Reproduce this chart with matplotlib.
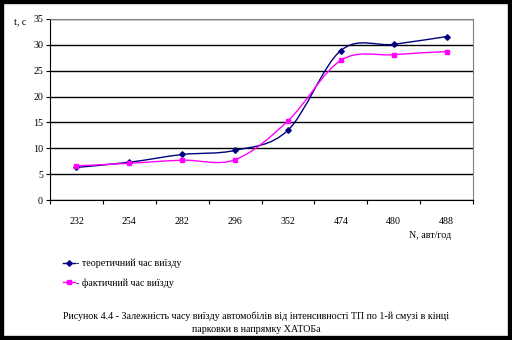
import numpy as np
import matplotlib
matplotlib.use('Agg')
from matplotlib import pyplot as plt
from matplotlib.path import Path
from matplotlib.patches import PathPatch, Rectangle
from matplotlib.lines import Line2D

categories = ['232', '254', '282', '296', '352', '474', '480', '488']
theory = [6.3, 7.3, 8.8, 9.6, 13.5, 28.9, 30.1, 31.6]
actual = [6.6, 7.1, 7.7, 7.8, 15.3, 27.0, 28.1, 28.7]

plt.rcParams['font.family'] = ['Liberation Serif', 'DejaVu Serif']
fs = 7.2


def smooth_path(xs, ys):
    # cubic bezier through points (catmull-rom like Excel smoothing)
    pts = np.column_stack([xs, ys]).astype(float)
    verts = [pts[0]]
    codes = [Path.MOVETO]
    n = len(pts)
    for i in range(n - 1):
        p0 = pts[i - 1] if i > 0 else pts[i]
        p1 = pts[i]
        p2 = pts[i + 1]
        p3 = pts[i + 2] if i + 2 < n else pts[i + 1]
        c1 = p1 + (p2 - p0) / 6.0
        c2 = p2 - (p3 - p1) / 6.0
        verts += [c1, c2, p2]
        codes += [Path.CURVE4] * 3
    return Path(verts, codes)


fig = plt.figure(figsize=(5.12, 3.4), dpi=100)
ax = fig.add_axes([50 / 512, 140 / 340, 423 / 512, 181 / 340])

x = np.arange(len(categories)) + 0.5
series = [(theory, '#000080', 'D', 2.8), (actual, '#FF00FF', 's', 2.8)]
for vals, col, mk, ms in series:
    ax.add_patch(PathPatch(smooth_path(x, vals), facecolor='none',
                           edgecolor=col, lw=1.0, zorder=3))
    ax.plot(x, vals, ls='none', marker=mk, ms=ms, color=col, zorder=4)

ax.set_xlim(0, len(categories))
ax.set_ylim(0, 35)
ax.set_yticks(np.arange(0, 36, 5))
ax.set_xticks(np.arange(len(categories) + 1))
ax.set_xticklabels([])
ax.set_xticks(x, minor=True)
ax.set_xticklabels(categories, minor=True)
ax.tick_params(axis='x', which='minor', length=0, pad=12, labelsize=fs)
ax.tick_params(axis='x', which='major', length=3, direction='out')
ax.tick_params(axis='y', length=3, direction='out', labelsize=fs, pad=2)
ax.yaxis.grid(True, color='black', lw=1.0)
ax.set_axisbelow(True)
for s in ['top', 'right']:
    ax.spines[s].set_color('#808080')
ax.spines['left'].set_color('black')
ax.spines['bottom'].set_color('black')

fig.text(14 / 512, 1 - 22 / 340, 't, c', fontsize=fs, va='center')
fig.text(451 / 512, 1 - 236 / 340, 'N, авт/год', fontsize=fs, va='center', ha='right')

handles = [Line2D([], [], color='#000080', marker='D', ms=2.8, lw=1),
           Line2D([], [], color='#FF00FF', marker='s', ms=2.8, lw=1)]
fig.legend(handles, ['- теоретичний час виїзду', '- фактичний час виїзду'],
           loc='upper left', bbox_to_anchor=(54 / 512, 1 - 250 / 340),
           frameon=False, fontsize=fs, handlelength=1.2, handletextpad=0.15,
           labelspacing=0.95)

fig.text(0.5, 1 - 316 / 340,
         'Рисунок 4.4 - Залежність часу виїзду автомобілів від інтенсивності ТП по 1-й смузі в кінці',
         fontsize=fs, ha='center', va='center')
fig.text(0.5, 1 - 330 / 340, 'парковки в напрямку ХАТОБа',
         fontsize=fs, ha='center', va='center')

fig.patches.append(Rectangle((0, 0), 1, 1, transform=fig.transFigure,
                             facecolor='none', edgecolor='black', lw=6))

fig.savefig('out.png', dpi=100)
